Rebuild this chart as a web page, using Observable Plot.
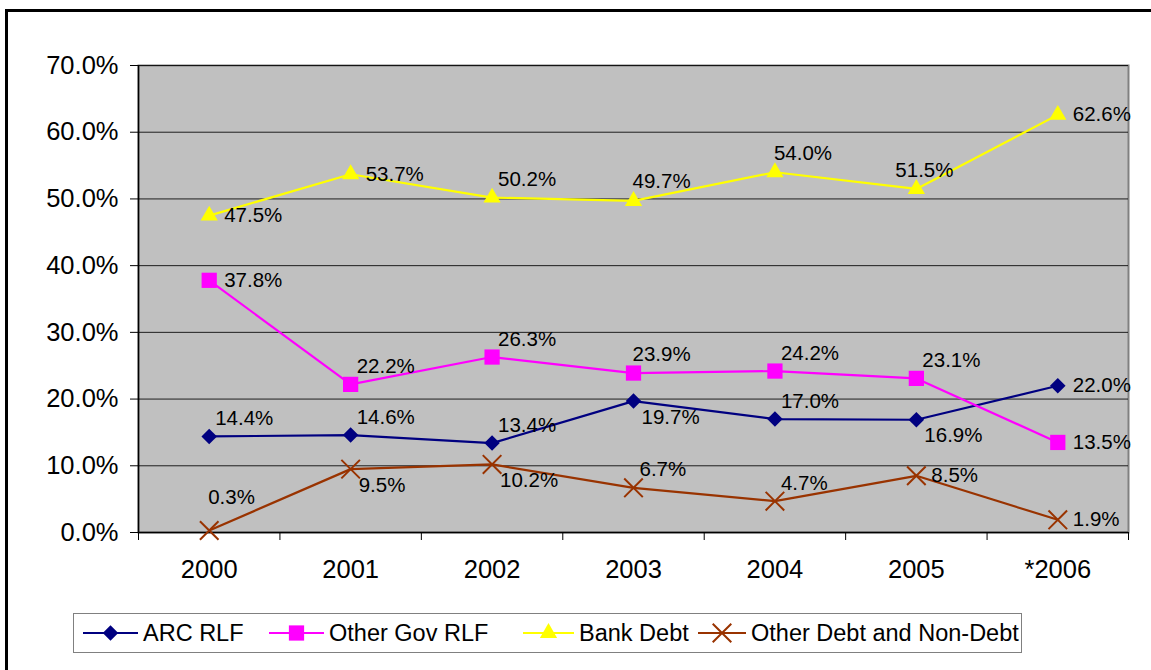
<!DOCTYPE html>
<html>
<head>
<meta charset="utf-8">
<script src="https://cdn.jsdelivr.net/npm/d3@7"></script>
<script src="https://cdn.jsdelivr.net/npm/@observablehq/plot@0.6"></script>
<style>
  body { margin: 0; background: #fff; font-family: "Liberation Sans", Arial, sans-serif; }
  #wrap { position: relative; width: 1151px; height: 670px; overflow: hidden; background: #fff; }
  #outer { position: absolute; left: 5px; top: 9px; width: 1200px; height: 700px; border: 3px solid #000; }
  #chart { position: absolute; left: 0; top: 0; }
  #legend { position: absolute; left: 73px; top: 613px; width: 938px; height: 38px; border: 1px solid #808080;
            display: flex; align-items: center; padding-left: 9px; box-sizing: content-box; font-size: 23.5px; color: #000; }
  .item { display: flex; align-items: center; white-space: nowrap; flex: none; }
  .item svg { margin-right: 5px; }
</style>
</head>
<body>
<div id="wrap">
  <div id="outer"></div>
  <div id="chart"></div>
  <div id="legend"></div>
</div>
<script>
// ---- data ----
const categories = ["2000", "2001", "2002", "2003", "2004", "2005", "*2006"];
const seriesNames = ["ARC RLF", "Other Gov RLF", "Bank Debt", "Other Debt and Non-Debt"];
const arcRLF      = [14.4, 14.6, 13.4, 19.7, 17.0, 16.9, 22.0];
const otherGovRLF = [37.8, 22.2, 26.3, 23.9, 24.2, 23.1, 13.5];
const bankDebt    = [47.5, 53.7, 50.2, 49.7, 54.0, 51.5, 62.6];
const otherDebt   = [0.3, 9.5, 10.2, 6.7, 4.7, 8.5, 1.9];
const yTicks = [0, 10, 20, 30, 40, 50, 60, 70];

// label placement codes (per point)
const arcPlace      = ["ur", "ur", "ur", "dr", "ur", "dr", "r"];
const otherGovPlace = ["r", "ur", "ur", "u", "ur", "ur", "r"];
const bankPlace     = ["r", "r", "ur", "u", "u", "ul", "r"];
const otherPlace    = ["uu", "dr", "dr", "ur", "ur", "r", "r"];

// ---- styling ----
const styles = [
  {color: "#000080", symbol: "diamond2", r: 7, fill: true, itemWidth: 186, swatch: 55},
  {color: "#FF00FF", symbol: "square", r: 8.6, fill: true, itemWidth: 254, swatch: 55},
  {color: "#FFFF00", symbol: "triangle", r: 6.4, fill: true, itemWidth: 175, swatch: 51},
  {color: "#993300", symbol: "times", r: 8.5, fill: false, itemWidth: null, swatch: 48}
];
const offsets = {
  r:  {dx: 15, dy: 0},
  ur: {dx: 6, dy: -18},
  dr: {dx: 8, dy: 16},
  u:  {dx: -1, dy: -19},
  ul: {dx: -21, dy: -18},
  uu: {dx: -1, dy: -33}
};

const allValues = [arcRLF, otherGovRLF, bankDebt, otherDebt];
const allPlace = [arcPlace, otherGovPlace, bankPlace, otherPlace];
const rows = [];
allValues.forEach((vals, s) => vals.forEach((v, i) => rows.push({
  s, series: seriesNames[s], i, cat: categories[i], v: v / 100, place: allPlace[s][i]
})));

const symbolMap = {diamond2: d3.symbolDiamond2, square: d3.symbolSquare, triangle: d3.symbolTriangle, times: d3.symbolTimes};

const marks = [
  Plot.frame({fill: "#C0C0C0", stroke: "#808080", strokeWidth: 2}),
  Plot.gridY(yTicks.map(t => t / 100), {stroke: "#000", strokeOpacity: 0.85, strokeWidth: 1}),
  Plot.ruleX([-0.5], {stroke: "#000", strokeWidth: 1.5}),
  Plot.ruleY([0], {stroke: "#000", strokeWidth: 1.5}),
  Plot.axisY(yTicks.map(t => t / 100), {tickSize: 8, tickPadding: 12, tickFormat: d3.format(".1%"), fontSize: 25.5, stroke: "#000", label: null}),
  Plot.axisX(d3.range(categories.length + 1).map(i => i - 0.5), {tickSize: 8, tickFormat: () => "", stroke: "#000", label: null}),
  Plot.axisX(d3.range(categories.length), {tickSize: 0, tickPadding: 27, tickFormat: i => categories[i], fontSize: 25.5, label: null})
];
styles.forEach((st, s) => {
  const data = rows.filter(d => d.s === s);
  marks.push(Plot.line(data, {x: "i", y: "v", stroke: st.color, strokeWidth: 2.2}));
  marks.push(Plot.dot(data, {
    x: "i", y: "v", symbol: () => st.symbol, r: st.r,
    fill: st.fill ? st.color : "none", stroke: st.fill ? "none" : st.color, strokeWidth: st.fill ? 0 : 2
  }));
});
Object.entries(offsets).forEach(([code, o]) => {
  marks.push(Plot.text(rows.filter(d => d.place === code), {
    x: "i", y: "v", text: d => d3.format(".1%")(d.v), textAnchor: "start",
    dx: o.dx, dy: o.dy, fontSize: 20.5, fill: "#000"
  }));
});

const chart = Plot.plot({
  width: 1151,
  height: 600,
  marginLeft: 138,
  marginRight: 23,
  marginTop: 65,
  marginBottom: 68,
  style: {fontFamily: "'Liberation Sans', Arial, sans-serif", background: "transparent", color: "#000", overflow: "visible"},
  x: {type: "linear", domain: [-0.5, categories.length - 0.5], label: null},
  y: {domain: [0, 0.7], label: null},
  symbol: {type: "identity"},
  marks
});
document.getElementById("chart").appendChild(chart);

// ---- legend ----
const legend = d3.select("#legend");
styles.forEach((st, s) => {
  const item = legend.append("div").attr("class", "item");
  if (st.itemWidth) item.style("width", st.itemWidth + "px");
  const w = st.swatch;
  const svg = item.append("svg").attr("width", w).attr("height", 22);
  svg.append("line").attr("x1", 0).attr("x2", w).attr("y1", 11).attr("y2", 11)
    .attr("stroke", st.color).attr("stroke-width", 2.2);
  svg.append("path")
    .attr("transform", `translate(${w / 2},11)`)
    .attr("d", d3.symbol().type(symbolMap[st.symbol]).size(Math.PI * st.r * st.r)())
    .attr("fill", st.fill ? st.color : "none")
    .attr("stroke", st.fill ? "none" : st.color)
    .attr("stroke-width", 2);
  item.append("span").text(seriesNames[s]);
});
</script>
</body>
</html>
